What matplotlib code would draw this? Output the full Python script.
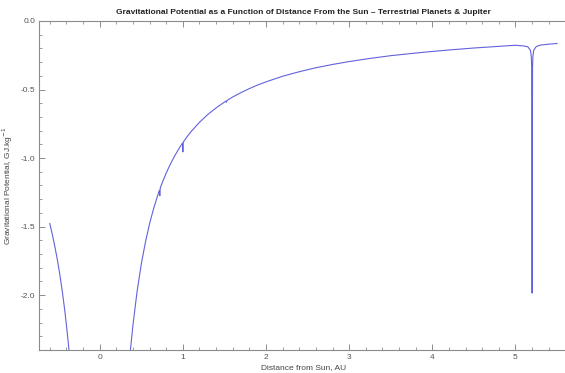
import matplotlib
matplotlib.use("Agg")
import matplotlib.pyplot as plt
from matplotlib.ticker import MultipleLocator

plt.rcParams['font.family'] = ['Liberation Sans', 'DejaVu Sans']
plt.rcParams['axes.unicode_minus'] = False

# distance from the sun (AU) and potential (GJ/kg)
x_left = [-0.60, -0.57, -0.54, -0.51, -0.48, -0.45, -0.42, -0.39, -0.37]
y_left = [-1.478, -1.556, -1.643, -1.739, -1.848, -1.971, -2.112, -2.274, -2.397]

x_right = [0.37, 0.40, 0.45, 0.50, 0.55, 0.60, 0.65, 0.70,
           0.718, 0.723, 0.728,                       # Venus
           0.75, 0.80, 0.85, 0.90, 0.95,
           0.995, 1.0, 1.005,                         # Earth
           1.05, 1.10, 1.20, 1.30, 1.40,
           1.515, 1.524, 1.53,                        # Mars
           1.60, 1.70, 1.80, 1.90, 2.00, 2.2, 2.4, 2.6, 2.8, 3.0,
           3.25, 3.5, 3.75, 4.0, 4.25, 4.5, 4.75, 5.0,
           5.10, 5.15, 5.18, 5.19, 5.195, 5.2, 5.205, 5.21, 5.22,  # Jupiter
           5.25, 5.30, 5.40, 5.50]
y_right = [-2.397, -2.218, -1.971, -1.774, -1.613, -1.478, -1.365, -1.267,
           -1.235, -1.275, -1.218,
           -1.183, -1.109, -1.044, -0.986, -0.934,
           -0.891, -0.955, -0.883,
           -0.845, -0.806, -0.739, -0.682, -0.634,
           -0.585, -0.593, -0.580,
           -0.554, -0.522, -0.493, -0.467, -0.444, -0.403, -0.370, -0.341, -0.317, -0.296,
           -0.273, -0.253, -0.237, -0.222, -0.209, -0.197, -0.187, -0.177,
           -0.182, -0.189, -0.214, -0.256, -0.340, -1.985, -0.339, -0.255, -0.213,
           -0.186, -0.176, -0.169, -0.164]

line_col = '#6262dc'
frame_col = '#8c8c8c'

fig = plt.figure(figsize=(5.65, 3.73), dpi=100)
ax = fig.add_axes([0.0696, 0.0617, 0.934, 0.882])

ax.plot(x_left, y_left, color=line_col, lw=0.8)
ax.plot(x_right, y_right, color=line_col, lw=0.8)

ax.set_xlim(-0.726, 5.62)
ax.set_ylim(-2.4, 0.0)

ax.xaxis.set_major_locator(MultipleLocator(1))
ax.xaxis.set_minor_locator(MultipleLocator(0.2))
ax.yaxis.set_major_locator(MultipleLocator(0.5))
ax.yaxis.set_minor_locator(MultipleLocator(0.1))
ax.yaxis.set_major_formatter(matplotlib.ticker.FormatStrFormatter('%.1f'))

for s in ax.spines.values():
    s.set_color(frame_col)
    s.set_linewidth(0.8)

ax.tick_params(which='both', direction='in', top=True, right=False,
               color=frame_col, labelsize=6, labelcolor='#555555', pad=3)
ax.tick_params(which='major', length=4, width=0.7)
ax.tick_params(which='minor', length=2, width=0.6)

ax.set_title('Gravitational Potential as a Function of Distance From the Sun \u2013 Terrestrial Planets & Jupiter',
             fontsize=6.0, fontweight='bold', color='#222222', pad=5)
ax.set_xlabel('Distance from Sun, AU', fontsize=6, color='#444444', labelpad=2)
ax.set_ylabel('Gravitational Potential, GJ.kg$^{-1}$', fontsize=6, color='#444444', labelpad=4)

fig.savefig('out.png', dpi=100, facecolor='white')
